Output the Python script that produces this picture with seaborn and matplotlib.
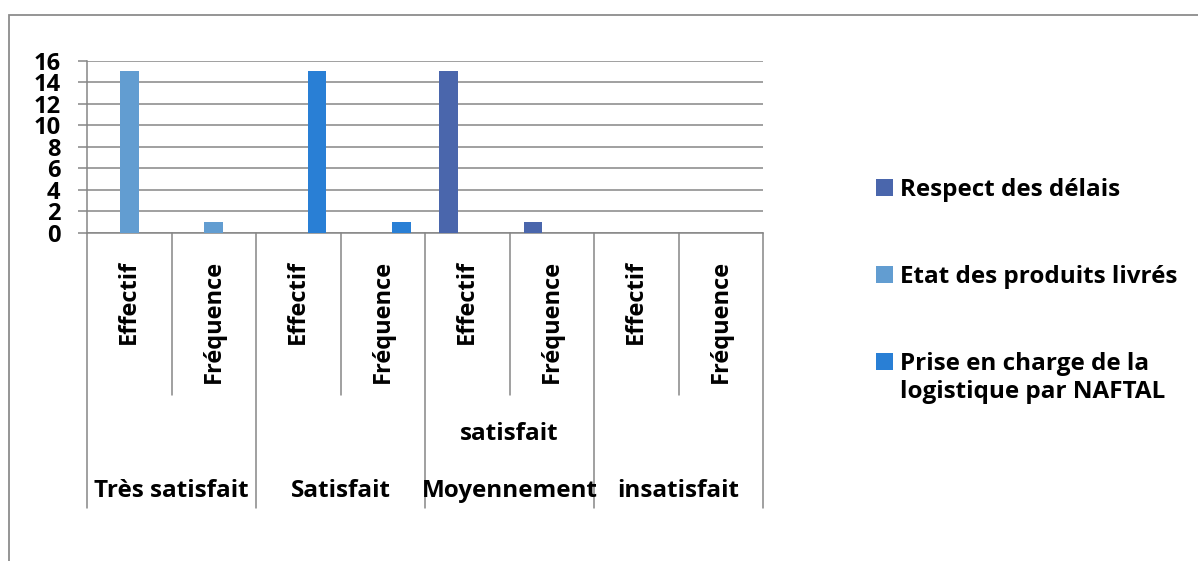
import matplotlib
matplotlib.use("Agg")
import matplotlib.pyplot as plt
import matplotlib.transforms as mtrans
from matplotlib.patches import Rectangle
from matplotlib.lines import Line2D
import seaborn as sns
import pandas as pd

# ---- data -------------------------------------------------------------
levels = ["Très satisfait", "Satisfait", "Moyennement satisfait", "insatisfait"]
level_lines = [["Très satisfait"], ["Satisfait"], ["Moyennement", "satisfait"], ["insatisfait"]]
measures = ["Effectif", "Fréquence"]
series = ["Respect des délais", "Etat des produits livrés",
          "Prise en charge de la\nlogistique par NAFTAL"]
colors = ["#4A66AC", "#629DD1", "#297FD5"]

respect = [0, 0, 0, 0, 15, 1, 0, 0]
etat = [15, 1, 0, 0, 0, 0, 0, 0]
prise = [0, 0, 15, 1, 0, 0, 0, 0]
yticks = [0, 2, 4, 6, 8, 10, 12, 14, 16]

slots = [f"{lv}|{m}" for lv in levels for m in measures]
rows = []
for name, vals in zip(series, [respect, etat, prise]):
    for slot, v in zip(slots, vals):
        rows.append({"slot": slot, "series": name, "value": v})
df = pd.DataFrame(rows)

# ---- figure -----------------------------------------------------------
sns.set_theme(style="white")
plt.rcParams["font.family"] = ["Open Sans", "DejaVu Sans"]
plt.rcParams["font.weight"] = "bold"

W, H = 1198, 561
fig = plt.figure(figsize=(W / 100, H / 100), dpi=100)
fig.patch.set_facecolor("white")


def fx(px):
    return px / W


def fy(py):
    return (H - py) / H


GRAY = "#868686"
FS = 17.5
FS_ROT = 17

ax = fig.add_axes([fx(87), fy(233), fx(763) - fx(87), fy(60.7) - fy(233)])
sns.barplot(data=df, x="slot", y="value", hue="series", order=slots,
            hue_order=series, palette=colors, width=2 / 3, saturation=1,
            linewidth=0, legend=False, ax=ax, zorder=3)

ax.set_xlim(-0.5, len(slots) - 0.5)
ax.set_ylim(0, 16)
ax.set_yticks(yticks)
ax.set_yticklabels([str(t) for t in yticks], fontsize=17, fontweight="bold",
                   color="black")
ax.set_xticks([])
ax.set_xlabel("")
ax.set_ylabel("")
ax.yaxis.grid(True, color=GRAY, lw=1.1, zorder=0)
ax.set_axisbelow(True)
ax.tick_params(axis="y", left=True, length=6.5, width=1.1, color=GRAY, pad=12.5)
for side in ["top", "right"]:
    ax.spines[side].set_visible(False)
for side in ["left", "bottom"]:
    ax.spines[side].set_color(GRAY)
    ax.spines[side].set_linewidth(1.1)
ax.set_facecolor("white")

# ---- hierarchical category axis --------------------------------------
tr = mtrans.blended_transform_factory(ax.transData, fig.transFigure)
y_axis = fy(233)
for i in range(len(levels) + 1):
    x = -0.5 + 2 * i
    fig.add_artist(Line2D([x, x], [y_axis, fy(508)], transform=tr,
                          color=GRAY, lw=1.1))
for i in range(len(levels)):
    x = 0.5 + 2 * i
    fig.add_artist(Line2D([x, x], [y_axis, fy(395)], transform=tr,
                          color=GRAY, lw=1.1))

for i, slot in enumerate(slots):
    fig.text(i, fy(260), slot.split("|")[1], transform=tr, rotation=90,
             ha="center", va="top", fontsize=FS_ROT, fontweight="bold",
             color="black")

row_y = [491, 434]
for i, lines in enumerate(level_lines):
    xc = 2 * i + 0.5
    for k, line in enumerate(lines):
        fig.text(xc, fy(row_y[k]), line, transform=tr, ha="center",
                 va="center", fontsize=FS, fontweight="bold", color="black")

# ---- legend -----------------------------------------------------------
sq = 16.5
leg_centers = [187.5, 274.3, 361.7]
for name, col, yc in zip(series, colors, leg_centers):
    fig.add_artist(Rectangle((fx(876), fy(yc + sq / 2)), sq / W, sq / H,
                             transform=fig.transFigure, facecolor=col,
                             edgecolor="none"))
    fig.text(fx(900), fy(yc - sq / 2 - 1.5), name, ha="left", va="top",
             fontsize=FS, fontweight="bold", color="black", linespacing=1.2)

# ---- chart frame ------------------------------------------------------
fig.add_artist(Rectangle((fx(9), -0.1), 1.2, fy(15) + 0.1,
                         transform=fig.transFigure, fill=False,
                         edgecolor="#8C8C8C", lw=1.3))

fig.savefig("out.png", dpi=100, facecolor="white")
